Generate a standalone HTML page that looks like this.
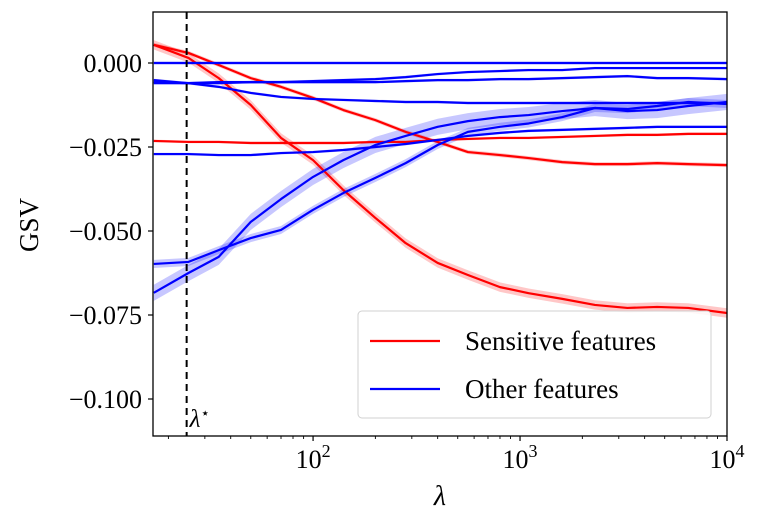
<!DOCTYPE html>
<html><head><meta charset="utf-8">
<style>
body{margin:0;background:#fff;}
svg text{font-family:"Liberation Serif","DejaVu Serif",serif;}
</style></head>
<body>
<svg id="chart" width="761" height="527" viewBox="0 0 761 527" xmlns="http://www.w3.org/2000/svg">
<g id="bands"></g><g id="lines"></g><g id="axes"></g>
</svg>
<script>
const lambdas=[17,25,35,50,70,100,140,200,280,400,560,800,1100,1600,2300,3300,4600,6500,10000];
const sensitive1=[0.0054,0.0015,-0.0045,-0.0125,-0.0223,-0.0289,-0.0378,-0.0461,-0.0536,-0.0595,-0.0631,-0.0667,-0.0685,-0.0702,-0.0720,-0.0729,-0.0726,-0.0729,-0.0744];
const sensitive2=[0.0054,0.0030,-0.0006,-0.0045,-0.0071,-0.0104,-0.0140,-0.0170,-0.0205,-0.0235,-0.0265,-0.0274,-0.0283,-0.0295,-0.0301,-0.0301,-0.0298,-0.0301,-0.0304];
const sensitive3=[-0.0232,-0.0235,-0.0235,-0.0238,-0.0238,-0.0238,-0.0238,-0.0235,-0.0235,-0.0229,-0.0226,-0.0223,-0.0223,-0.0220,-0.0217,-0.0214,-0.0214,-0.0211,-0.0211];
const otherA=[0,0,0,0,0,0,0,0,0,0,0,0,0,0,0,0,0,0,0];
const otherB=[-0.0060,-0.0060,-0.0057,-0.0057,-0.0057,-0.0054,-0.0051,-0.0048,-0.0042,-0.0033,-0.0027,-0.0024,-0.0021,-0.0021,-0.0015,-0.0015,-0.0015,-0.0015,-0.0015];
const otherC=[-0.0057,-0.0060,-0.0060,-0.0057,-0.0057,-0.0057,-0.0057,-0.0057,-0.0054,-0.0051,-0.0051,-0.0048,-0.0048,-0.0045,-0.0042,-0.0039,-0.0045,-0.0045,-0.0048];
const otherD=[-0.0051,-0.0060,-0.0071,-0.0089,-0.0101,-0.0107,-0.0110,-0.0113,-0.0116,-0.0116,-0.0119,-0.0119,-0.0119,-0.0119,-0.0119,-0.0119,-0.0119,-0.0119,-0.0119];
const otherE=[-0.0271,-0.0271,-0.0274,-0.0274,-0.0268,-0.0265,-0.0259,-0.0250,-0.0241,-0.0229,-0.0217,-0.0208,-0.0202,-0.0199,-0.0196,-0.0193,-0.0190,-0.0190,-0.0190];
const otherF=[-0.0598,-0.0592,-0.0557,-0.0521,-0.0497,-0.0437,-0.0387,-0.0342,-0.0298,-0.0244,-0.0205,-0.0190,-0.0180,-0.0161,-0.0134,-0.0137,-0.0128,-0.0116,-0.0122];
const otherG=[-0.0684,-0.0625,-0.0577,-0.0473,-0.0405,-0.0339,-0.0289,-0.0244,-0.0217,-0.0190,-0.0173,-0.0161,-0.0155,-0.0143,-0.0134,-0.0143,-0.0140,-0.0128,-0.0116];
const bandWidths=[0.0014,0.0006,0.0004,0.0004,0.0004,0.0004,0.0004,0.0004,0.0012,0.0024];
const yTicks=[0,-0.025,-0.05,-0.075,-0.1];
const yTickLabels=["0.000","\u22120.025","\u22120.050","\u22120.075","\u22120.100"];
const xTicks=[100,1000,10000];
const xTickExps=["2","3","4"];
const lambdaStar=24.5;

const NS="http://www.w3.org/2000/svg";
const L=153,R=727,T=12,B=436;
const xMin=Math.log10(16.85),xMax=4;
function xs(l){return L+(Math.log10(l)-xMin)/(xMax-xMin)*(R-L);}
function ys(v){return 63-v/0.025*84;}
function mk(tag,attrs,parent){const e=document.createElementNS(NS,tag);for(const k in attrs)e.setAttribute(k,attrs[k]);parent.appendChild(e);return e;}
const svg=document.getElementById('chart');
const gB=document.getElementById('bands'),gL=document.getElementById('lines'),gA=document.getElementById('axes');
const series=[[sensitive1,'red','sensitive-line-1'],[sensitive2,'red','sensitive-line-2'],[sensitive3,'red','sensitive-line-3'],
[otherA,'blue','other-line-a'],[otherB,'blue','other-line-b'],[otherC,'blue','other-line-c'],[otherD,'blue','other-line-d'],[otherE,'blue','other-line-e'],[otherF,'blue','other-line-f'],[otherG,'blue','other-line-g']];
const clip=mk('clipPath',{id:'pc'},svg);mk('rect',{x:L,y:T,width:R-L,height:B-T},clip);
gB.setAttribute('clip-path','url(#pc)');gL.setAttribute('clip-path','url(#pc)');
series.forEach((s,i)=>{
  const vals=s[0],w=bandWidths[i];
  const up=lambdas.map((l,j)=>xs(l)+','+ys(vals[j]+w)).join(' ');
  const dn=lambdas.map((l,j)=>xs(l)+','+ys(vals[j]-w)).reverse().join(' ');
  const band=mk('polygon',{points:up+' '+dn,fill:s[1]=='red'?'rgba(255,0,0,0.22)':'rgba(0,0,255,0.22)'},gB);
  
  
  const line=mk('polyline',{points:lambdas.map((l,j)=>xs(l)+','+ys(vals[j])).join(' '),fill:'none',stroke:s[1]=='red'?'#ff0000':'#0000ff','stroke-width':2.2,'stroke-linejoin':'round'},gL);
  
  
});
const ls=mk('line',{x1:xs(lambdaStar),x2:xs(lambdaStar),y1:T,y2:B,stroke:'#000','stroke-width':2,'stroke-dasharray':'7,5'},gA);


const lst=mk('text',{x:xs(lambdaStar)+3,y:427,'font-size':25,'font-style':'italic'},gA);
lst.textContent='λ';
const sup=mk('tspan',{dy:-9,'font-size':15,'font-style':'normal'},lst);sup.textContent='⋆';


const fr=mk('rect',{x:L,y:T,width:R-L,height:B-T,fill:'none',stroke:'#000','stroke-width':1.3},gA);


yTicks.forEach((v,i)=>{
  mk('line',{x1:L-5,x2:L,y1:ys(v),y2:ys(v),stroke:'#000','stroke-width':1.2},gA);
  const t=mk('text',{x:142,y:ys(v)+9,'font-size':26,'text-anchor':'end'},gA);
  t.textContent=yTickLabels[i];
  
  
});
xTicks.forEach((v,i)=>{
  mk('line',{x1:xs(v),x2:xs(v),y1:B,y2:B+5,stroke:'#000','stroke-width':1.2},gA);
  const t=mk('text',{x:xs(v),y:468,'font-size':26,'text-anchor':'middle'},gA);
  t.textContent='10';
  const e=mk('tspan',{dy:-11,'font-size':18},t);e.textContent=xTickExps[i];
  
  
});
for(let d=1;d<4;d++)for(let m=2;m<10;m++){const v=m*Math.pow(10,d);if(v<16.85)continue;mk('line',{x1:xs(v),x2:xs(v),y1:B,y2:B+3,stroke:'#000','stroke-width':0.9},gA);}
const xl=mk('text',{x:440,y:505,'font-size':28,'font-style':'italic','text-anchor':'middle'},gA);
xl.textContent='λ';


const yl=mk('text',{x:0,y:0,'font-size':27,'text-anchor':'middle',transform:'translate(38,225) rotate(-90)'},gA);
yl.textContent='GSV';


const lg=mk('g',{},gA);


mk('rect',{x:358,y:311,width:353,height:107,rx:4,fill:'rgba(255,255,255,0.85)',stroke:'#d0d0d0','stroke-width':1},lg);
[['Sensitive features','#ff0000',341],['Other features','#0000ff',389]].forEach(e=>{
  const g=mk('g',{},lg);
  
  
  mk('line',{x1:370,x2:440,y1:e[2],y2:e[2],stroke:e[1],'stroke-width':2.2},g);
  const t=mk('text',{x:465,y:e[2]+9,'font-size':27},g);t.textContent=e[0];
});
</script>
</body></html>
